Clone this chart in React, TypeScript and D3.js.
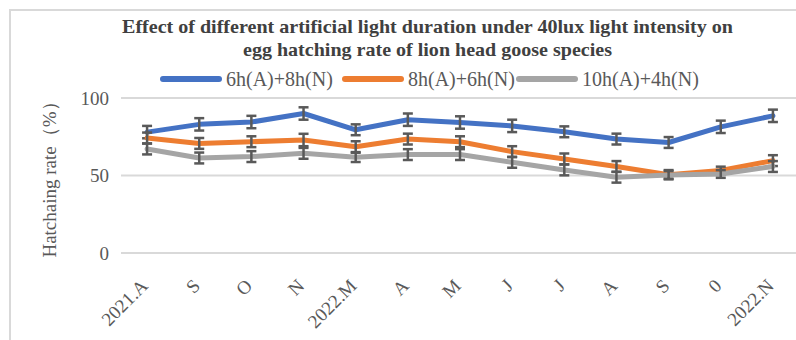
import * as d3 from "d3";

const months = ["2021.A", "S", "O", "N", "2022.M", "A", "M", "J", "J ", "A ", "S ", "0", "2022.N"];
const seriesNames = ["6h(A)+8h(N)", "8h(A)+6h(N)", "10h(A)+4h(N)"];
const colors = ["#4472C4", "#ED7D31", "#A5A5A5"];

// hatching rate (%)
const rate6h = [78, 83, 84.5, 90, 79.5, 86, 84.2, 82, 78.2, 73.5, 71.3, 81.4, 88.5];
const rate8h = [74.2, 70.7, 71.8, 72.9, 68.6, 73.5, 71.8, 65.4, 60.7, 55.8, 50.5, 53.2, 59.6];
const rate10h = [67.1, 61.3, 62.2, 64.3, 61.7, 63.5, 63.5, 58.5, 53.6, 48.9, 50.4, 51, 55.8];
const err6h = [4, 4, 4, 4, 3.5, 4, 4, 4, 3.5, 3.5, 3.5, 4, 4];
const err8h = [3.5, 3.5, 3.5, 4, 3.5, 3.5, 3.5, 3.5, 3.5, 3.5, 3, 2.5, 3.5];
const err10h = [3.5, 3.5, 3.5, 3.5, 3, 3.5, 3.5, 3.5, 3.5, 3.5, 2.5, 2.5, 3.5];
const yTicks = [0, 50, 100];

const seriesValues = [rate6h, rate8h, rate10h];
const seriesErrors = [err6h, err8h, err10h];

const W = 796;
const H = 340;
const serif = "'Liberation Serif', 'Times New Roman', serif";

export default function App() {
  const x = d3.scalePoint<string>().domain(months).range([121, 799]).padding(0.5);
  const y = d3.scaleLinear().domain([0, 100]).range([253, 98]);

  const line = d3
    .line<number>()
    .x((_, i) => x(months[i])!)
    .y((d) => y(d));

  const legendX = [163, 345, 519];

  return (
    <svg
      width={W}
      height={H}
      style={{ position: "absolute", left: 0, top: 0, background: "#fff" }}
      fontFamily={serif}
    >
      <rect x={10} y={10} width={W} height={H} fill="#fff" stroke="#d9d9d9" strokeWidth={2} />

      {/* title */}
      <text x={427.5} y={33} textAnchor="middle" fontSize={19} fontWeight="bold" fill="#404040"
        textLength={611} lengthAdjust="spacingAndGlyphs">
        Effect of different artificial light duration under 40lux light intensity on
      </text>
      <text x={427.5} y={56} textAnchor="middle" fontSize={19} fontWeight="bold" fill="#404040"
        textLength={369} lengthAdjust="spacingAndGlyphs">
        egg hatching rate of lion head goose species
      </text>

      {/* legend */}
      {seriesNames.map((name, i) => (
        <g key={name}>
          <line x1={legendX[i]} x2={legendX[i] + 56} y1={79} y2={79} stroke={colors[i]}
            strokeWidth={6} strokeLinecap="round" />
          <text x={legendX[i] + 63} y={86} fontSize={20} fill="#595959">{name}</text>
        </g>
      ))}

      {/* gridlines + y ticks */}
      {yTicks.map((t) => (
        <g key={t}>
          <line x1={121} x2={799} y1={y(t)} y2={y(t)} stroke="#d9d9d9" strokeWidth={2} />
          <text x={109} y={y(t)} dy="0.35em" textAnchor="end" fontSize={19} fill="#595959">{t}</text>
        </g>
      ))}

      {/* y axis title */}
      <text transform={`translate(56,${175}) rotate(-90)`} textAnchor="middle" fontSize={19} fill="#595959">
        Hatchaing rate（%）
      </text>

      {/* x labels */}
      {months.map((m) => (
        <text key={m} transform={`translate(${x(m)! + 2},${287}) rotate(-45)`} textAnchor="end"
          fontSize={19} fill="#595959">
          {m.trim()}
        </text>
      ))}

      {/* series with error bars */}
      {seriesValues.map((vals, s) => (
        <g key={seriesNames[s]}>
          <path d={line(vals)!} fill="none" stroke={colors[s]} strokeWidth={5}
            strokeLinejoin="round" strokeLinecap="round" />
          {vals.map((v, i) => {
            const cx = x(months[i])!;
            const e = seriesErrors[s][i];
            return (
              <g key={i} stroke="#595959" strokeWidth={2.5}>
                <line x1={cx} x2={cx} y1={y(v + e)} y2={y(v - e)} />
                <line x1={cx - 5} x2={cx + 5} y1={y(v + e)} y2={y(v + e)} />
                <line x1={cx - 5} x2={cx + 5} y1={y(v - e)} y2={y(v - e)} />
              </g>
            );
          })}
        </g>
      ))}
    </svg>
  );
}
